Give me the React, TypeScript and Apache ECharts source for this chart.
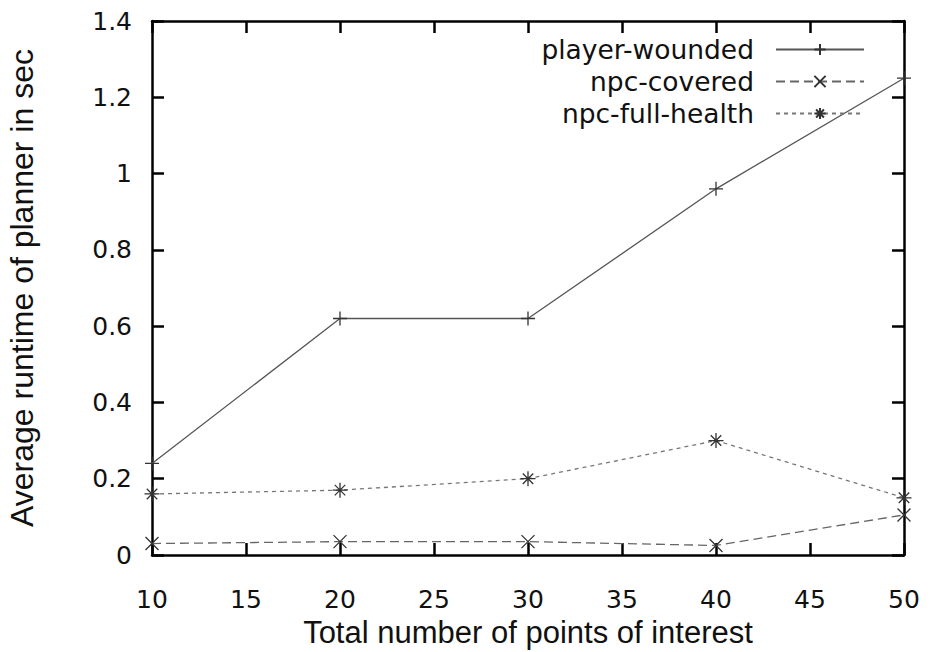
import React, { useEffect, useRef } from "react";
import * as echarts from "echarts";

const xValues = [10, 20, 30, 40, 50];
const playerWounded = [0.24, 0.62, 0.62, 0.96, 1.25];
const npcCovered = [0.03, 0.035, 0.035, 0.025, 0.105];
const npcFullHealth = [0.16, 0.17, 0.2, 0.3, 0.15];
const seriesNames = ["player-wounded", "npc-covered", "npc-full-health"];

const TITLE_FONT = "Liberation Sans";
const LABEL_FONT = "DejaVu Sans";
const PLUS = "path://M0,6L12,6M6,0L6,12";
const CROSS = "path://M0,0L12,12M12,0L0,12";
const STAR = "path://M0,6L12,6M6,0L6,12M1.8,1.8L10.2,10.2M10.2,1.8L1.8,10.2";

const mkLine = () => ({ show: true, onZero: false, lineStyle: { color: "#000", width: 2.5 } });
const mkTick = () => ({
  show: true,
  inside: true,
  length: 12,
  interval: 0,
  lineStyle: { color: "#000", width: 2.5, opacity: 1 },
});

export default function App() {
  const ref = useRef<HTMLDivElement>(null);
  useEffect(() => {
    if (!ref.current) return;
    const chart = echarts.init(ref.current, null, { renderer: "svg" });
    const pair = (vals: number[]) => xValues.map((x, i) => [x, vals[i]]);
    const markerStyle = { color: "none", borderColor: "#333", borderWidth: 1.3 };
    chart.setOption({
      animation: false,
      backgroundColor: "#fff",
      grid: { left: 152, right: 26, top: 21, bottom: 97, containLabel: false, outerBoundsMode: "none" },
      legend: {
        orient: "vertical",
        right: 60,
        top: 31,
        align: "right",
        itemWidth: 88,
        itemHeight: 14,
        itemGap: 5,
        padding: 5,
        data: seriesNames,
        textStyle: { fontFamily: LABEL_FONT, fontSize: 26.5, color: "#111", padding: [0, 17, 0, 0] },
      },
      xAxis: [
        {
          type: "value",
          min: 10,
          max: 50,
          interval: 5,
          position: "bottom",
          name: "Total number of points of interest",
          nameLocation: "middle",
          nameGap: 61,
          nameTextStyle: { fontFamily: TITLE_FONT, fontSize: 31, color: "#111" },
          axisLine: mkLine(),
          axisTick: mkTick(),
          splitLine: { show: false },
          axisLabel: { fontFamily: LABEL_FONT, fontSize: 25, color: "#111", margin: 32 },
        },
        {
          type: "value",
          min: 10,
          max: 50,
          interval: 5,
          position: "top",
          axisLine: mkLine(),
          axisTick: mkTick(),
          splitLine: { show: false },
          axisLabel: { show: false },
        },
      ],
      yAxis: [
        {
          type: "value",
          min: 0,
          max: 1.4,
          interval: 0.2,
          position: "left",
          name: "Average runtime of planner in sec",
          nameLocation: "middle",
          nameGap: 114,
          nameTextStyle: { fontFamily: TITLE_FONT, fontSize: 32, color: "#111" },
          axisLine: mkLine(),
          axisTick: mkTick(),
          splitLine: { show: false },
          axisLabel: { fontFamily: LABEL_FONT, fontSize: 25, color: "#111", margin: 20 },
        },
        {
          type: "value",
          min: 0,
          max: 1.4,
          interval: 0.2,
          position: "right",
          axisLine: mkLine(),
          axisTick: mkTick(),
          splitLine: { show: false },
          axisLabel: { show: false },
        },
      ],
      series: [
        {
          name: seriesNames[0],
          type: "line",
          data: pair(playerWounded),
          clip: false,
          symbol: PLUS,
          symbolSize: 14,
          itemStyle: markerStyle,
          lineStyle: { color: "#555", width: 1.3, type: "solid" },
        },
        {
          name: seriesNames[1],
          type: "line",
          data: pair(npcCovered),
          clip: false,
          symbol: CROSS,
          symbolSize: 13,
          itemStyle: markerStyle,
          lineStyle: { color: "#666", width: 1.3, type: [9, 5] },
        },
        {
          name: seriesNames[2],
          type: "line",
          data: pair(npcFullHealth),
          clip: false,
          symbol: STAR,
          symbolSize: 15,
          itemStyle: markerStyle,
          lineStyle: { color: "#777", width: 1.3, type: [4, 4] },
        },
      ],
    });
    return () => chart.dispose();
  }, []);
  return (
    <div
      ref={ref}
      style={{ position: "fixed", left: 0, top: 0, width: 930, height: 652, background: "#fff" }}
    />
  );
}
